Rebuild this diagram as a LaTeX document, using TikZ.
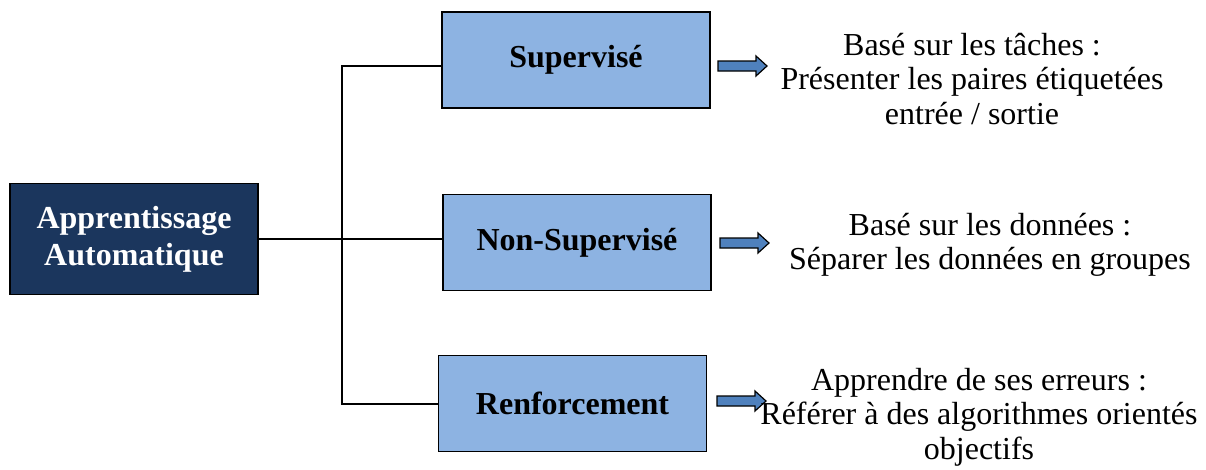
\documentclass[tikz,border=0pt]{standalone}
\usepackage{fontspec}
\setmainfont{Liberation Serif}
\definecolor{navy}{HTML}{1B365D}
\definecolor{lightblue}{HTML}{8DB3E2}
\definecolor{arrowblue}{HTML}{4F81BD}
\tikzset{
  mainbox/.style={draw=black, line width=1.8pt, fill=navy, text=white,
    font=\fontsize{32}{37}\selectfont\bfseries, align=center,
    minimum width=248pt, minimum height=111pt, inner sep=0pt},
  catbox/.style={draw=black, line width=1.8pt, fill=lightblue,
    font=\fontsize{32}{32}\selectfont\bfseries,
    minimum width=268pt, minimum height=96pt, inner sep=0pt},
  link/.style={line width=1.4pt, draw=black},
  blockarrow/.pic={
    \draw[black, line width=1.2pt, fill=arrowblue, line join=miter]
      (0,-5) -- (38,-5) -- (38,-10) -- (49,0) -- (38,10) -- (38,5) -- (0,5) -- cycle;
  },
  note/.style={font=\fontsize{32}{34.5}\selectfont, align=center, inner sep=0pt}
}
\begin{document}
\begin{tikzpicture}[x=1pt, y=-1pt]
\useasboundingbox (0,0) rectangle (1206,469);

% main concept
\node[mainbox] (ml) at (134,239) {Apprentissage\\Automatique};

% the three learning families
\node[catbox] (sup) at (576,60) {Supervisé};
\node[catbox] (unsup) at (577,242.5) {Non-Supervisé};
\node[catbox] (reinf) at (572.5,403.5) {Renforcement};

% tree connectors
\coordinate (trunkTop) at (342,66);
\coordinate (trunkBot) at (342,404);
\draw[link] (ml.east) -- (ml.east -| unsup.west);
\draw[link] (sup.west |- trunkTop) -- (trunkTop) -- (trunkBot) -- (reinf.west |- trunkBot);

% block arrows
\pic at (718,66) {blockarrow};
\pic at (720,243) {blockarrow};
\pic at (717,401) {blockarrow};

% descriptions
\node[note] (d1) at (972,79) {Basé sur les tâches :\\Présenter les paires étiquetées\\entrée / sortie};
\node[note] (d2) at (990,245) {Basé sur les données :\\Séparer les données en groupes};
\node[note] (d3) at (979,417) {Apprendre de ses erreurs :\\Référer à des algorithmes orientés\\objectifs};
\end{tikzpicture}
\end{document}
